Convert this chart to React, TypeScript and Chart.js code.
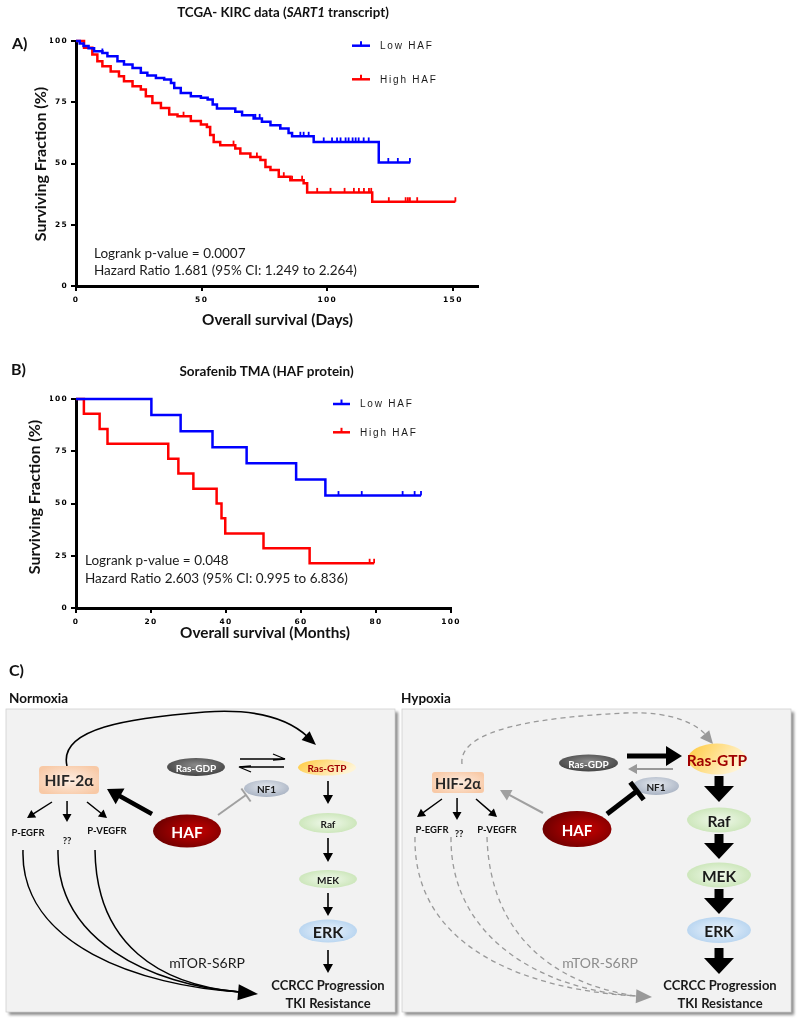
import React, { useEffect, useRef } from "react";
import { Chart, registerables } from "chart.js";
Chart.register(...registerables);

// ---------- Panel A: TCGA-KIRC (days) ----------
const lowA_days = [0, 1.5, 3, 5, 7.2, 10.5, 12.5, 16.5, 19.1, 22.5, 25.8, 28.4, 31.8, 35.1, 37.8, 39.1, 41.7, 45.7, 49.7, 52.4, 54.4, 56.1, 63.4, 66.1, 70.7, 74, 77.4, 81.3, 84.6, 86, 94.6, 120.5];
const lowA_surv = [100, 99, 98, 97, 95.8, 95.1, 93.8, 91.7, 90.4, 89, 87, 85.9, 84.9, 84.3, 82.9, 80.8, 78.8, 77.5, 76.8, 76.1, 74.1, 72.4, 71.1, 69.7, 68.4, 67, 65.6, 64.3, 62.5, 61.1, 58.8, 50.4];
const lowA_lastDay = 133;
const lowA_censored = [10.5, 71.4, 73.1, 81.3, 89.3, 90.6, 92.6, 98.6, 101.9, 103.9, 105.3, 107.3, 108.5, 110.1, 111.3, 112.5, 114.5, 116.5, 124.3, 128.1, 132.9];

const highA_days = [0, 3.2, 6.5, 8.5, 10.5, 13.8, 17.1, 19.1, 22.5, 25.8, 27.8, 30.4, 33.8, 37.1, 40.4, 45.7, 49.7, 52.1, 53.4, 54.8, 57.4, 63.4, 65.4, 69.4, 73.4, 75.4, 77.4, 80.7, 85.3, 90.6, 92, 117.9];
const highA_surv = [100, 97.2, 94.5, 91.7, 89.7, 87.6, 85.6, 83.6, 81.5, 80.2, 77.5, 74.7, 72.7, 70, 69.3, 67.3, 65.9, 64.9, 61.6, 58.8, 57.5, 56.1, 54.1, 52.7, 51.4, 48.6, 47.3, 44.6, 43.2, 41.9, 38.2, 34.4];
const highA_lastDay = 151;
const highA_censored = [42.8, 62.7, 72, 82.7, 86, 90, 96, 101.3, 106.9, 110.6, 112.6, 114.6, 116.6, 117.5, 124.5, 131.2, 132.1, 132.9, 135.8, 151];

const xTicksA = [0, 50, 100, 150];
const yTicks = [0, 25, 50, 75, 100];
const notesA = ["Logrank p-value = 0.0007", "Hazard Ratio 1.681 (95% CI: 1.249 to 2.264)"];

// ---------- Panel B: Sorafenib TMA (months) ----------
const lowB_months = [0, 20.1, 27.9, 36.4, 45.5, 58.7, 66.5];
const lowB_surv = [100, 92.3, 84.6, 76.9, 69.2, 61.5, 53.8];
const lowB_lastMonth = 92;
const lowB_censored = [70, 76.2, 87.1, 90.3, 92];

const highB_months = [0, 2.1, 6.3, 8.4, 24.6, 27.3, 31.3, 37.5, 38.8, 39.8, 50, 62.3];
const highB_surv = [100, 92.9, 85.7, 78.6, 71.4, 64.3, 57.1, 50, 42.9, 35.7, 28.6, 21.4];
const highB_lastMonth = 79.5;
const highB_censored = [78.3, 79.5];

const xTicksB = [0, 20, 40, 60, 80, 100];
const notesB = ["Logrank p-value = 0.048", "Hazard Ratio 2.603 (95% CI: 0.995 to 6.836)"];

const groupLabels = ["Low HAF", "High HAF"];
const BLUE = "#0000ff";
const RED = "#ff0000";
const FONT = "Lato, 'Open Sans', sans-serif";

function survAt(ts: number[], ss: number[], t: number) {
  let s = ss[0];
  for (let i = 0; i < ts.length; i++) if (ts[i] <= t) s = ss[i];
  return s;
}
function kmPoints(ts: number[], ss: number[], last: number) {
  const pts = ts.map((t, i) => ({ x: t, y: ss[i] }));
  pts.push({ x: last, y: ss[ss.length - 1] });
  return pts;
}

type Group = { t: number[]; s: number[]; last: number; censor: number[]; color: string; label: string };
type KMCfg = {
  id: string;
  groups: Group[];
  xMax: number;
  xTicks: number[];
  padding: { left: number; right: number; top: number; bottom: number };
  legend: { x: number; y: number; dy: number; len: number };
  notes: string[];
  noteX: number;
  noteY: number;
  noteDy: number;
};

function buildConfig(cfg: KMCfg): any {
  const plugin = {
    id: "km_" + cfg.id,
    beforeDraw(chart: any) {
      try { chart.ctx.letterSpacing = "1.3px"; } catch (e) {}
    },
    afterDatasetsDraw(chart: any) {
      const { ctx } = chart;
      const xs = chart.scales.x;
      const ys = chart.scales.y;
      ctx.save();
      cfg.groups.forEach((g) => {
        ctx.strokeStyle = g.color;
        ctx.lineWidth = 1.8;
        g.censor.forEach((t) => {
          const px = xs.getPixelForValue(t);
          const py = ys.getPixelForValue(survAt(g.t, g.s, t));
          ctx.beginPath();
          ctx.moveTo(px, py);
          ctx.lineTo(px, py - 4.5);
          ctx.stroke();
        });
      });
      const L = cfg.legend;
      cfg.groups.forEach((g, i) => {
        const ly = L.y + i * L.dy;
        ctx.strokeStyle = g.color;
        ctx.lineWidth = 2.5;
        ctx.beginPath();
        ctx.moveTo(L.x, ly);
        ctx.lineTo(L.x + L.len, ly);
        ctx.stroke();
        ctx.lineWidth = 2;
        ctx.beginPath();
        ctx.moveTo(L.x + L.len / 2, ly);
        ctx.lineTo(L.x + L.len / 2, ly - 4.5);
        ctx.stroke();
        ctx.fillStyle = "#1a1a1a";
        ctx.font = "10px 'Liberation Sans', Arial, sans-serif";
        try { ctx.letterSpacing = "1.8px"; } catch (e) {}
        ctx.textBaseline = "middle";
        ctx.textAlign = "left";
        ctx.fillText(g.label, L.x + L.len + 10, ly + 0.5);
      });
      try { ctx.letterSpacing = "0px"; } catch (e) {}
      ctx.font = `13.5px ${FONT}`;
      ctx.fillStyle = "#1a1a1a";
      ctx.textBaseline = "middle";
      cfg.notes.forEach((n, i) => ctx.fillText(n, cfg.noteX, cfg.noteY + i * cfg.noteDy));
      ctx.restore();
    },
    afterDraw(chart: any) {
      try { chart.ctx.letterSpacing = "0px"; } catch (e) {}
    },
  };
  const tickFont = { family: "'DejaVu Sans', sans-serif", weight: "bold" as const, size: 7.5 };
  return {
    type: "line",
    data: {
      datasets: cfg.groups.map((g) => ({
        label: g.label,
        data: kmPoints(g.t, g.s, g.last),
        borderColor: g.color,
        backgroundColor: g.color,
        borderWidth: 2.5,
        pointRadius: 0,
        stepped: true,
        fill: false,
        clip: 6,
      })),
    },
    options: {
      animation: false,
      responsive: false,
      events: [],
      layout: { padding: cfg.padding },
      plugins: { legend: { display: false }, tooltip: { enabled: false }, title: { display: false } },
      scales: {
        x: {
          type: "linear",
          min: 0,
          max: cfg.xMax,
          afterBuildTicks: (ax: any) => { ax.ticks = cfg.xTicks.map((v) => ({ value: v })); },
          afterFit: (s: any) => { s.height = 30; },
          ticks: { font: tickFont, color: "#000", padding: 5, maxRotation: 0, autoSkip: false },
          grid: { drawOnChartArea: false, drawTicks: true, tickLength: 5, color: "#000", lineWidth: 2 },
          border: { display: true, color: "#000", width: 3 },
        },
        y: {
          type: "linear",
          min: 0,
          max: 100,
          afterBuildTicks: (ax: any) => { ax.ticks = yTicks.map((v) => ({ value: v })); },
          afterFit: (s: any) => { s.width = 26; },
          ticks: { font: tickFont, color: "#000", padding: 3, autoSkip: false },
          grid: { drawOnChartArea: false, drawTicks: true, tickLength: 5, color: "#000", lineWidth: 2 },
          border: { display: true, color: "#000", width: 3 },
        },
      },
    },
    plugins: [plugin],
  };
}

function KMChart({ cfg, left, top, width, height }: { cfg: KMCfg; left: number; top: number; width: number; height: number }) {
  const ref = useRef<HTMLCanvasElement>(null);
  useEffect(() => {
    const chart = new Chart(ref.current as HTMLCanvasElement, buildConfig(cfg));
    return () => chart.destroy();
  }, []);
  return <canvas ref={ref} width={width} height={height} style={{ position: "absolute", left, top, width, height }} />;
}

const cfgA: KMCfg = {
  id: "A",
  groups: [
    { t: lowA_days, s: lowA_surv, last: lowA_lastDay, censor: lowA_censored, color: BLUE, label: groupLabels[0] },
    { t: highA_days, s: highA_surv, last: highA_lastDay, censor: highA_censored, color: RED, label: groupLabels[1] },
  ],
  xMax: 160,
  xTicks: xTicksA,
  padding: { left: 50, right: 22, top: 41, bottom: 19 },
  legend: { x: 352, y: 45.7, dy: 33.6, len: 18 },
  notes: notesA,
  noteX: 94,
  noteY: 253.5,
  noteDy: 17.5,
};

const cfgB: KMCfg = {
  id: "B",
  groups: [
    { t: lowB_months, s: lowB_surv, last: lowB_lastMonth, censor: lowB_censored, color: BLUE, label: groupLabels[0] },
    { t: highB_months, s: highB_surv, last: highB_lastMonth, censor: highB_censored, color: RED, label: groupLabels[1] },
  ],
  xMax: 100,
  xTicks: xTicksB,
  padding: { left: 50, right: 49, top: 69, bottom: 7 },
  legend: { x: 333, y: 74, dy: 28.3, len: 17 },
  notes: notesB,
  noteX: 85,
  noteY: 230.7,
  noteDy: 17.6,
};

function Txt({ x, y, children, style, anchor = "center" }: any) {
  const tr = anchor === "center" ? "translate(-50%,-50%)" : "translate(0,-50%)";
  return (
    <div style={{ position: "absolute", left: x, top: y, transform: tr, whiteSpace: "nowrap", fontFamily: FONT, color: "#111", lineHeight: 1, ...style }}>
      {children}
    </div>
  );
}

// ---------- Diagram helpers ----------
const P = (pts: number[][]) => pts.map((p) => p[0].toFixed(1) + "," + p[1].toFixed(1)).join(" ");
function arrowPoly(x1: number, y1: number, x2: number, y2: number, sw: number, hl: number, hw: number) {
  const dx = x2 - x1, dy = y2 - y1, L = Math.hypot(dx, dy);
  const ux = dx / L, uy = dy / L, px = -uy, py = ux;
  const bx = x2 - ux * hl, by = y2 - uy * hl;
  return P([
    [x1 + (px * sw) / 2, y1 + (py * sw) / 2],
    [bx + (px * sw) / 2, by + (py * sw) / 2],
    [bx + (px * hw) / 2, by + (py * hw) / 2],
    [x2, y2],
    [bx - (px * hw) / 2, by - (py * hw) / 2],
    [bx - (px * sw) / 2, by - (py * sw) / 2],
    [x1 - (px * sw) / 2, y1 - (py * sw) / 2],
  ]);
}
function headPoly(x: number, y: number, angDeg: number, hl: number, hw: number) {
  const a = (angDeg * Math.PI) / 180;
  const ux = Math.cos(a), uy = Math.sin(a), px = -uy, py = ux;
  const bx = x - ux * hl, by = y - uy * hl;
  return P([[x, y], [bx + (px * hw) / 2, by + (py * hw) / 2], [bx - (px * hw) / 2, by - (py * hw) / 2]]);
}
function tBar(x1: number, y1: number, x2: number, y2: number, len: number) {
  const dx = x2 - x1, dy = y2 - y1, L = Math.hypot(dx, dy);
  const px = -dy / L, py = dx / L;
  return { x1: x2 + (px * len) / 2, y1: y2 + (py * len) / 2, x2: x2 - (px * len) / 2, y2: y2 - (py * len) / 2 };
}

function Ell({ cx, cy, rx, ry, fill, text, size, color }: any) {
  return (
    <g>
      <ellipse cx={cx} cy={cy} rx={rx} ry={ry} fill={fill} />
      <text x={cx} y={cy + 0.5} textAnchor="middle" dominantBaseline="central" fontFamily={FONT} fontWeight="bold" fontSize={size} fill={color}>{text}</text>
    </g>
  );
}
function T({ x, y, s, size = 9, color = "#111", weight = "bold", anchor = "middle" }: any) {
  return <text x={x} y={y} textAnchor={anchor} dominantBaseline="central" fontFamily={FONT} fontWeight={weight} fontSize={size} fill={color}>{s}</text>;
}

function Diagram() {
  const inhN = tBar(218, 815, 246, 795, 16);
  const inhH = tBar(607, 814, 637, 791, 22);
  const GRAY = "#a0a0a0";
  return (
    <svg width={800} height={386} style={{ position: "absolute", left: 0, top: 640 }}>
      <defs>
        <filter id="shadow" x="-5%" y="-5%" width="110%" height="110%">
          <feGaussianBlur stdDeviation="1.5" />
        </filter>
        <radialGradient id="gHIF" cx="50%" cy="50%" r="60%">
          <stop offset="0%" stopColor="#fdeee3" />
          <stop offset="100%" stopColor="#f8c9a6" />
        </radialGradient>
        <radialGradient id="gGDP" cx="50%" cy="40%" r="60%">
          <stop offset="0%" stopColor="#8a8a8a" />
          <stop offset="100%" stopColor="#444" />
        </radialGradient>
        <linearGradient id="gGTP" x1="0" y1="0" x2="1" y2="0.4">
          <stop offset="0%" stopColor="#ffc93c" />
          <stop offset="100%" stopColor="#fff4d4" />
        </linearGradient>
        <radialGradient id="gNF1" cx="50%" cy="40%" r="60%">
          <stop offset="0%" stopColor="#e4e8ee" />
          <stop offset="100%" stopColor="#a9b3c3" />
        </radialGradient>
        <radialGradient id="gHAF" cx="60%" cy="50%" r="60%">
          <stop offset="0%" stopColor="#c80000" />
          <stop offset="100%" stopColor="#6e0000" />
        </radialGradient>
        <radialGradient id="gGreen" cx="50%" cy="50%" r="60%">
          <stop offset="0%" stopColor="#f1f9ec" />
          <stop offset="100%" stopColor="#c6e3b2" />
        </radialGradient>
        <radialGradient id="gBlue" cx="50%" cy="50%" r="60%">
          <stop offset="0%" stopColor="#eef5fd" />
          <stop offset="100%" stopColor="#b0d0ee" />
        </radialGradient>
      </defs>
      <g transform="translate(0,-640)">
        <text x={9} y={669} dominantBaseline="central" fontFamily={FONT} fontWeight="bold" fontSize={16} fill="#111">C)</text>
        <text x={9} y={698} dominantBaseline="central" fontFamily={FONT} fontWeight="bold" fontSize={13.5} fill="#111">Normoxia</text>
        <text x={401} y={698} dominantBaseline="central" fontFamily={FONT} fontWeight="bold" fontSize={13.5} fill="#111">Hypoxia</text>

        {/* boxes */}
        <rect x={9} y={712} width={389} height={303} fill="#8c8c8c" filter="url(#shadow)" />
        <rect x={6} y={709} width={389} height={303} fill="#f2f2f2" stroke="#d0d0d0" strokeWidth={0.8} />
        <rect x={405} y={712} width={389} height={303} fill="#8c8c8c" filter="url(#shadow)" />
        <rect x={402} y={709} width={389} height={303} fill="#f2f2f2" stroke="#d0d0d0" strokeWidth={0.8} />

        {/* ===== Normoxia ===== */}
        <path d="M67,766 C58,728 130,718 205,712 C262,708 292,722 308,737" fill="none" stroke="#000" strokeWidth={1.6} />
        <polygon points={headPoly(316, 745, 42, 14, 12)} fill="#000" />
        <rect x={39} y={766} width={60} height={28} rx={4} fill="url(#gHIF)" />
        <T x={69} y={780} s="HIF-2α" size={15.5} color="#262626" />
        <Ell cx={196} cy={767} rx={29} ry={9} fill="url(#gGDP)" text="Ras-GDP" size={10} color="#fff" />
        <Ell cx={327} cy={767.5} rx={29} ry={8} fill="url(#gGTP)" text="Ras-GTP" size={10} color="#a00000" />
        <line x1={240} y1={759} x2={284} y2={759} stroke="#000" strokeWidth={1.3} />
        <polyline points="273,754 285,759 273,760" fill="none" stroke="#000" strokeWidth={1.3} />
        <line x1={240} y1={767} x2={284} y2={767} stroke="#000" strokeWidth={1.3} />
        <polyline points="251,766 239,767 251,772" fill="none" stroke="#000" strokeWidth={1.3} />
        <Ell cx={266.5} cy={788.5} rx={22.5} ry={8.5} fill="url(#gNF1)" text="NF1" size={10} color="#1a1a1a" />
        <line x1={218} y1={815} x2={246} y2={795} stroke={GRAY} strokeWidth={2} />
        <line x1={inhN.x1} y1={inhN.y1} x2={inhN.x2} y2={inhN.y2} stroke={GRAY} strokeWidth={2} />
        <polygon points={arrowPoly(152, 814, 107, 789, 4.5, 15, 18)} fill="#000" />
        <Ell cx={187} cy={831} rx={34} ry={16.5} fill="url(#gHAF)" text="HAF" size={15.5} color="#fff" />
        <polygon points={arrowPoly(52, 802, 27, 818, 1.5, 8, 9)} fill="#000" />
        <polygon points={arrowPoly(67, 801, 67, 822, 1.5, 8, 9)} fill="#000" />
        <polygon points={arrowPoly(87, 802, 107, 818, 1.5, 8, 9)} fill="#000" />
        <T x={28} y={832} s="P-EGFR" size={9.5} />
        <T x={67} y={840} s="??" size={9.5} />
        <T x={107} y={830} s="P-VEGFR" size={9.5} />
        <path d="M23,850 C20,945 140,986 240,992" fill="none" stroke="#000" strokeWidth={1.5} />
        <path d="M58,850 C56,940 150,985 240,992" fill="none" stroke="#000" strokeWidth={1.5} />
        <path d="M95,850 C96,945 160,985 240,992" fill="none" stroke="#000" strokeWidth={1.5} />
        <polygon points={headPoly(258, 994, 5, 20, 16)} fill="#000" />
        <T x={207} y={962} s="mTOR-S6RP" size={14} weight="normal" color="#1a1a1a" />
        <polygon points={arrowPoly(328, 781, 328, 804, 1.6, 9, 10)} fill="#000" />
        <Ell cx={328} cy={823} rx={29} ry={10} fill="url(#gGreen)" text="Raf" size={10} color="#1a1a1a" />
        <polygon points={arrowPoly(328, 838, 328, 862, 1.6, 9, 10)} fill="#000" />
        <Ell cx={328} cy={879} rx={29} ry={9} fill="url(#gGreen)" text="MEK" size={10} color="#1a1a1a" />
        <polygon points={arrowPoly(328, 893, 328, 916, 1.6, 9, 10)} fill="#000" />
        <Ell cx={328} cy={931} rx={29} ry={11.5} fill="url(#gBlue)" text="ERK" size={16} color="#1a1a1a" />
        <polygon points={arrowPoly(328, 950, 328, 973, 1.6, 9, 10)} fill="#000" />
        <T x={328} y={985} s="CCRCC Progression" size={13} color="#1a1a1a" />
        <T x={328} y={1003} s="TKI Resistance" size={13} color="#1a1a1a" />

        {/* ===== Hypoxia ===== */}
        <path d="M462,764 C458,728 545,717 625,713 C675,711 697,725 706,735" fill="none" stroke="#999" strokeWidth={1.3} strokeDasharray="5,4" />
        <polygon points={headPoly(713, 744, 50, 13, 12)} fill="#999" />
        <rect x={432} y={772} width={52} height={21} rx={3} fill="url(#gHIF)" />
        <T x={458} y={783} s="HIF-2α" size={14.5} color="#262626" />
        <Ell cx={588.5} cy={763} rx={29.5} ry={8.5} fill="url(#gGDP)" text="Ras-GDP" size={10} color="#fff" />
        <polygon points={arrowPoly(627, 756, 682, 756, 5, 16, 20)} fill="#000" />
        <polygon points={arrowPoly(673, 769, 628, 769, 2, 9, 10)} fill="#999" />
        <Ell cx={717} cy={759} rx={29} ry={15.5} fill="url(#gGTP)" text="Ras-GTP" size={15.5} color="#a00000" />
        <Ell cx={656} cy={786} rx={23} ry={9} fill="url(#gNF1)" text="NF1" size={10} color="#1a1a1a" />
        <line x1={607} y1={814} x2={637} y2={791} stroke="#000" strokeWidth={5} />
        <line x1={inhH.x1} y1={inhH.y1} x2={inhH.x2} y2={inhH.y2} stroke="#000" strokeWidth={5} />
        <polygon points={arrowPoly(543, 813, 500, 790, 2, 11, 12)} fill={GRAY} />
        <Ell cx={577} cy={829} rx={34.5} ry={18} fill="url(#gHAF)" text="HAF" size={15} color="#fff" />
        <polygon points={arrowPoly(442, 799, 417, 817, 1.5, 8, 9)} fill="#000" />
        <polygon points={arrowPoly(457, 798, 457, 820, 1.5, 8, 9)} fill="#000" />
        <polygon points={arrowPoly(476, 799, 497, 817, 1.5, 8, 9)} fill="#000" />
        <T x={432} y={829} s="P-EGFR" size={9.5} />
        <T x={459} y={833} s="??" size={9.5} />
        <T x={497} y={829} s="P-VEGFR" size={9.5} />
        <path d="M415,837 C413,950 530,990 636,996" fill="none" stroke="#999" strokeWidth={1.3} strokeDasharray="5,4" />
        <path d="M451,837 C450,940 545,990 636,996" fill="none" stroke="#999" strokeWidth={1.3} strokeDasharray="5,4" />
        <path d="M487,837 C490,940 560,985 636,996" fill="none" stroke="#999" strokeWidth={1.3} strokeDasharray="5,4" />
        <polygon points={headPoly(652, 997, 3, 16, 14)} fill="#999" />
        <T x={600} y={962} s="mTOR-S6RP" size={14} weight="normal" color="#8c8c8c" />
        <polygon points={arrowPoly(719, 776, 719, 802, 9, 16, 30)} fill="#000" />
        <Ell cx={719} cy={820} rx={32} ry={12.5} fill="url(#gGreen)" text="Raf" size={15.5} color="#1a1a1a" />
        <polygon points={arrowPoly(719, 834, 719, 859, 9, 16, 30)} fill="#000" />
        <Ell cx={719} cy={875} rx={32} ry={12.5} fill="url(#gGreen)" text="MEK" size={15.5} color="#1a1a1a" />
        <polygon points={arrowPoly(719, 889, 719, 914, 9, 16, 30)} fill="#000" />
        <Ell cx={719} cy={930} rx={32} ry={13} fill="url(#gBlue)" text="ERK" size={15.5} color="#1a1a1a" />
        <polygon points={arrowPoly(719, 948, 719, 974, 9, 16, 30)} fill="#000" />
        <T x={720} y={985} s="CCRCC Progression" size={13} color="#1a1a1a" />
        <T x={720} y={1003} s="TKI Resistance" size={13} color="#1a1a1a" />
      </g>
    </svg>
  );
}

export default function App() {
  return (
    <div style={{ position: "absolute", left: 0, top: 0, width: 800, height: 1026, background: "#fff", overflow: "hidden" }}>
      <KMChart cfg={cfgA} left={0} top={0} width={500} height={335} />
      <KMChart cfg={cfgB} left={0} top={330} width={500} height={315} />

      <Txt x={12} y={43} anchor="left" style={{ fontWeight: "bold", fontSize: 16 }}>A)</Txt>
      <Txt x={283} y={13} style={{ fontWeight: "bold", fontSize: 13.3 }}>
        TCGA- KIRC data (<i>SART1</i> transcript)
      </Txt>
      <Txt x={39.5} y={163.5} style={{ fontWeight: "bold", fontSize: 16, transform: "translate(-50%,-50%) rotate(-90deg)" }}>
        Surviving Fraction (%)
      </Txt>
      <Txt x={277.5} y={320} style={{ fontWeight: "bold", fontSize: 15.3 }}>Overall survival (Days)</Txt>

      <Txt x={11} y={369} anchor="left" style={{ fontWeight: "bold", fontSize: 16 }}>B)</Txt>
      <Txt x={266.5} y={371.5} style={{ fontWeight: "bold", fontSize: 13.5 }}>Sorafenib TMA (HAF protein)</Txt>
      <Txt x={33.5} y={496.5} style={{ fontWeight: "bold", fontSize: 16, transform: "translate(-50%,-50%) rotate(-90deg)" }}>
        Surviving Fraction (%)
      </Txt>
      <Txt x={265} y={633} style={{ fontWeight: "bold", fontSize: 15.3 }}>Overall survival (Months)</Txt>

      <Diagram />
    </div>
  );
}
